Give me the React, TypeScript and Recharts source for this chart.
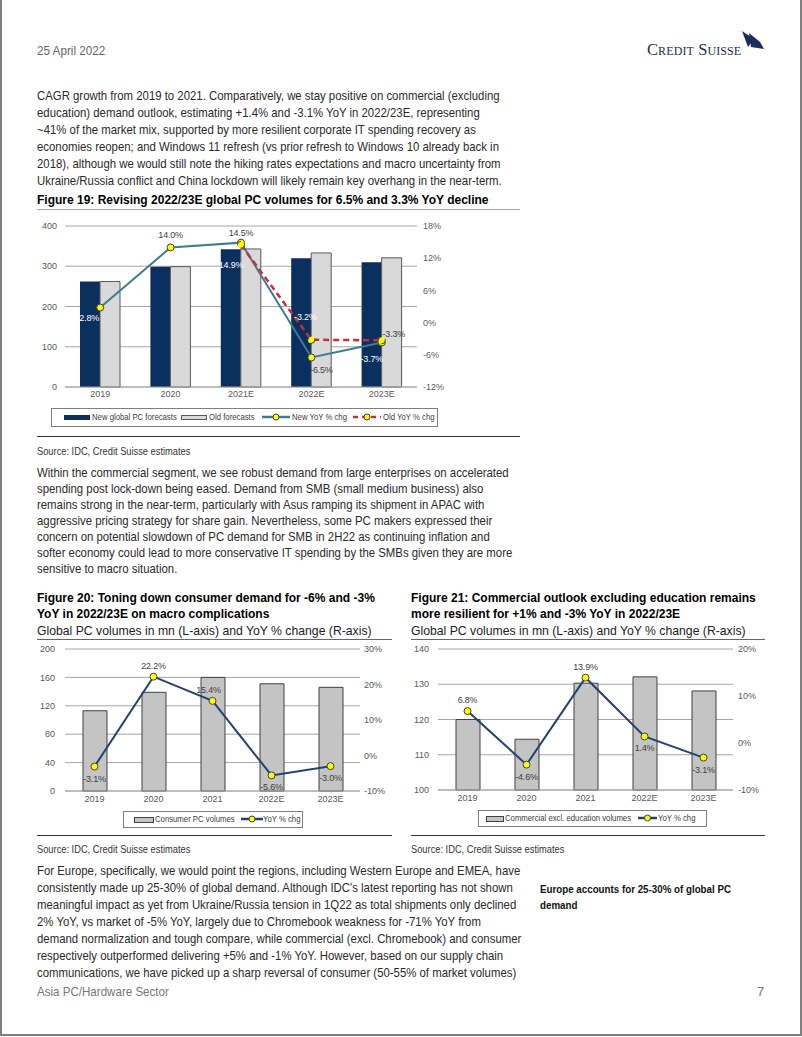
import React from 'react';
import { ComposedChart, Bar, Line, XAxis, YAxis, CartesianGrid } from 'recharts';

// Figure 19
const fig19Years = ['2019', '2020', '2021E', '2022E', '2023E'];
const newVolumes = [262, 299, 342, 320, 310];
const oldVolumes = [262, 299, 343, 333, 321];
const newYoy = [2.8, 14.0, 14.9, -6.5, -3.7];
const oldYoy = [null, null, 14.5, -3.2, -3.3];
const fig19LeftTicks = [0, 100, 200, 300, 400];
const fig19RightTicks = [-12, -6, 0, 6, 12, 18];

// Figure 20
const fig20Years = ['2019', '2020', '2021', '2022E', '2023E'];
const consumerVolumes = [113, 139, 160, 151, 146];
const consumerYoy = [-3.1, 22.2, 15.4, -5.6, -3.0];
const fig20LeftTicks = [0, 40, 80, 120, 160, 200];
const fig20RightTicks = [-10, 0, 10, 20, 30];

// Figure 21
const fig21Years = ['2019', '2020', '2021', '2022E', '2023E'];
const commercialVolumes = [120, 114.4, 130.3, 132.1, 128.1];
const commercialYoy = [6.8, -4.6, 13.9, 1.4, -3.1];
const fig21LeftTicks = [100, 110, 120, 130, 140];
const fig21RightTicks = [-10, 0, 10, 20];

const fig19Rows = fig19Years.map((name, i) => ({ name, newVol: newVolumes[i], oldVol: oldVolumes[i], newYoy: newYoy[i], oldYoy: oldYoy[i] }));
const fig20Rows = fig20Years.map((name, i) => ({ name, vol: consumerVolumes[i], yoy: consumerYoy[i] }));
const fig21Rows = fig21Years.map((name, i) => ({ name, vol: commercialVolumes[i], yoy: commercialYoy[i] }));

const SANS = "'Liberation Sans', Arial, sans-serif";
const NAVY = '#0B2F5E';
const TEAL = '#3C7D8E';
const RED = '#C9303A';
const LINE_BLUE = '#22436E';
const TICK = { fontSize: 9, fill: '#595959', fontFamily: SANS };

// label placement per point (offset from the marker, text colour)
const W = '#FFFFFF';
const D = '#404040';
const newYoyPlace = [[-11, 10, W], [0, -12, D], [-10, 22, W], [10, 13, D], [-10, 17, W]];
const oldYoyPlace = [[0, 0, D], [0, 0, D], [0, -12, D], [-6, -23, W], [12, -6, D]];
const consumerPlace = [[0, 12, D], [0, -11, D], [-4, -11, D], [0, 12, D], [0, 12, D]];
const commercialPlace = [[0, -11, D], [0, 12, D], [0, -11, D], [0, 12, D], [0, 12, D]];

const pctLabel = (places: any[]) => (props: any) => {
  const { x, y, value, index } = props;
  if (value == null || x == null || y == null) return null;
  const [dx, dy, fill] = places[index];
  return (
    <text key={`l-${index}`} x={x + dx} y={y + dy} textAnchor="middle" dominantBaseline="central" fontSize={9} fill={fill} fontFamily={SANS} letterSpacing={-0.2}>
      {`${value.toFixed(1)}%`}
    </text>
  );
};

const yellowDot = { r: 3.5, fill: '#FFFF00', stroke: '#404040', strokeWidth: 1 };

// one line of page text, squeezed horizontally to match the narrow report font
const Text = ({ x, y, children, style, sx = 1 }: any) => (
  <div style={{ position: 'absolute', left: x, top: y - 8.5, lineHeight: '17px', whiteSpace: 'nowrap', ...style }}>
    <span style={{ display: 'inline-block', transform: `scaleX(${sx})`, transformOrigin: 'left center' }}>{children}</span>
  </div>
);

const Rule = ({ x, y, w, color = '#A6A6A6', h = 1 }: any) => (
  <div style={{ position: 'absolute', left: x, top: y, width: w, height: h, background: color }} />
);

const para1 = [
  'CAGR growth from 2019 to 2021. Comparatively, we stay positive on commercial (excluding',
  'education) demand outlook, estimating +1.4% and -3.1% YoY in 2022/23E, representing',
  '~41% of the market mix, supported by more resilient corporate IT spending recovery as',
  'economies reopen; and Windows 11 refresh (vs prior refresh to Windows 10 already back in',
  '2018), although we would still note the hiking rates expectations and macro uncertainty from',
  'Ukraine/Russia conflict and China lockdown will likely remain key overhang in the near-term.',
];
const para2 = [
  'Within the commercial segment, we see robust demand from large enterprises on accelerated',
  'spending post lock-down being eased. Demand from SMB (small medium business) also',
  'remains strong in the near-term, particularly with Asus ramping its shipment in APAC with',
  'aggressive pricing strategy for share gain. Nevertheless, some PC makers expressed their',
  'concern on potential slowdown of PC demand for SMB in 2H22 as continuing inflation and',
  'softer economy could lead to more conservative IT spending by the SMBs given they are more',
  'sensitive to macro situation.',
];
const para3 = [
  'For Europe, specifically, we would point the regions, including Western Europe and EMEA, have',
  "consistently made up 25-30% of global demand. Although IDC's latest reporting has not shown",
  'meaningful impact as yet from Ukraine/Russia tension in 1Q22 as total shipments only declined',
  '2% YoY, vs market of -5% YoY, largely due to Chromebook weakness for -71% YoY from',
  'demand normalization and tough compare, while commercial (excl. Chromebook) and consumer',
  'respectively outperformed delivering +5% and -1% YoY. However, based on our supply chain',
  'communications, we have picked up a sharp reversal of consumer (50-55% of market volumes)',
];

const BODY_SX = 0.875;
const bodyStyle = { fontFamily: SANS, fontSize: 13, color: '#2A2A2A' };
const titleStyle = { fontFamily: SANS, fontSize: 12, fontWeight: 'bold', color: '#000' };
const sourceStyle = { fontFamily: SANS, fontSize: 10.5, color: '#333' };
const legendText = { fontFamily: SANS, fontSize: 9, color: '#404040', whiteSpace: 'nowrap' as const };

const LegendLabel = ({ x, top = 3, children }: any) => (
  <span style={{ ...legendText, position: 'absolute', left: x, top, display: 'inline-block', transform: 'scaleX(0.86)', transformOrigin: 'left center' }}>{children}</span>
);

const LineSwatch = ({ x, w = 28, color, dashed, top = 3 }: any) => (
  <svg style={{ position: 'absolute', left: x, top }} width={w} height={10}>
    <line x1={0} y1={5} x2={w} y2={5} stroke={color} strokeWidth={2.5} strokeDasharray={dashed ? '5 4' : undefined} />
    <circle cx={w / 2} cy={5} r={3} fill="#FFFF00" stroke="#404040" strokeWidth={1} />
  </svg>
);

const RectSwatch = ({ x, w, fill, stroke, top = 6, h = 5 }: any) => (
  <div style={{ position: 'absolute', left: x, top, width: w, height: h, background: fill, border: stroke ? `1px solid ${stroke}` : 'none', boxSizing: 'border-box' }} />
);

const Logo = () => (
  <div style={{ position: 'absolute', left: 647, top: 28 }}>
    <div style={{ position: 'absolute', left: 0, top: 12, fontFamily: "'Liberation Serif', serif", fontSize: 16.5, color: '#1B2C5C', fontVariant: 'small-caps', letterSpacing: 0.1, whiteSpace: 'nowrap', lineHeight: '19px' }}>
      Credit Suisse
    </div>
    <svg style={{ position: 'absolute', left: 93, top: 2 }} width={26} height={20}>
      <polygon points="2,1 14,9 8,17" fill="#1B2C5C" />
      <polygon points="9,3 20,12 24,19 11,17" fill="#1B2C5C" />
    </svg>
  </div>
);

const App: React.FC = () => {
  return (
    <div style={{ position: 'absolute', left: 0, top: 0, width: 802, height: 1037, background: '#fff', overflow: 'hidden' }}>
      {/* page frame */}
      <div style={{ position: 'absolute', left: 0, top: -4, width: 802, height: 1040, border: '2px solid #808080', boxSizing: 'border-box' }} />

      <Text x={37} y={50} sx={0.9} style={{ ...bodyStyle, color: '#666' }}>25 April 2022</Text>
      <Logo />

      {para1.map((t, i) => <Text key={`p1-${i}`} x={37} y={95 + i * 17} sx={BODY_SX} style={bodyStyle}>{t}</Text>)}

      {/* Figure 19 */}
      <Text x={37} y={200} style={titleStyle}>Figure 19: Revising 2022/23E global PC volumes for 6.5% and 3.3% YoY decline</Text>
      <Rule x={37} y={209} w={483} />
      <div style={{ position: 'absolute', left: 37, top: 212 }}>
        <ComposedChart width={483} height={222} data={fig19Rows} margin={{ top: 14, right: 63, bottom: 27, left: 0 }} barGap={0} barCategoryGap="21%">
          <CartesianGrid yAxisId="left" vertical={false} stroke="#A6A6A6" />
          <XAxis dataKey="name" tickLine={false} axisLine={{ stroke: '#A6A6A6' }} tick={TICK} tickSize={0} tickMargin={4} height={20} />
          <YAxis yAxisId="left" domain={[0, 400]} ticks={fig19LeftTicks} width={28} axisLine={false} tickLine={false} tickSize={0} tickMargin={8} tick={TICK} />
          <YAxis yAxisId="right" orientation="right" domain={[-12, 18]} ticks={fig19RightTicks} tickFormatter={(v: number) => `${v}%`} width={40} axisLine={false} tickLine={false} tickSize={0} tickMargin={6} tick={{ ...TICK, textAnchor: 'start' }} />
          <Bar yAxisId="left" dataKey="newVol" fill={NAVY} barSize={20} isAnimationActive={false} />
          <Bar yAxisId="left" dataKey="oldVol" fill="#D9D9D9" stroke="#595959" strokeWidth={1} barSize={20} isAnimationActive={false} />
          <Line yAxisId="right" dataKey="newYoy" stroke={TEAL} strokeWidth={2} dot={yellowDot} activeDot={false} label={pctLabel(newYoyPlace)} isAnimationActive={false} />
          <Line yAxisId="right" dataKey="oldYoy" stroke={RED} strokeWidth={2.5} strokeDasharray="6 4" dot={yellowDot} activeDot={false} label={pctLabel(oldYoyPlace)} isAnimationActive={false} />
        </ComposedChart>
      </div>
      <div style={{ position: 'absolute', left: 51, top: 408, width: 387, height: 19, border: '1px solid #7F7F7F', boxSizing: 'border-box' }}>
        <RectSwatch x={12} w={26} fill={NAVY} />
        <LegendLabel x={40}>New global PC forecasts</LegendLabel>
        <RectSwatch x={129} w={26} fill="#D9D9D9" stroke="#595959" />
        <LegendLabel x={157}>Old forecasts</LegendLabel>
        <LineSwatch x={210} color={TEAL} />
        <LegendLabel x={240}>New YoY % chg</LegendLabel>
        <LineSwatch x={301} color={RED} dashed />
        <LegendLabel x={331}>Old YoY % chg</LegendLabel>
      </div>
      <Rule x={37} y={436} w={483} color="#333" />
      <Text x={37} y={451} sx={0.885} style={sourceStyle}>Source: IDC, Credit Suisse estimates</Text>

      {para2.map((t, i) => <Text key={`p2-${i}`} x={37} y={472 + i * 16} sx={BODY_SX} style={bodyStyle}>{t}</Text>)}

      {/* Figure 20 */}
      <Text x={37} y={598} style={titleStyle}>Figure 20: Toning down consumer demand for -6% and -3%</Text>
      <Text x={37} y={614} style={titleStyle}>YoY in 2022/23E on macro complications</Text>
      <Text x={37} y={630} sx={0.94} style={{ ...bodyStyle, color: '#222' }}>Global PC volumes in mn (L-axis) and YoY % change (R-axis)</Text>
      <Rule x={37} y={639} w={355} color="#666" />
      <div style={{ position: 'absolute', left: 37, top: 641 }}>
        <ComposedChart width={355} height={194} data={fig20Rows} margin={{ top: 8, right: 0, bottom: 24, left: 0 }} barCategoryGap="30%">
          <CartesianGrid yAxisId="left" vertical={false} stroke="#A6A6A6" />
          <XAxis dataKey="name" tickLine={false} axisLine={{ stroke: '#A6A6A6' }} tick={TICK} tickSize={0} tickMargin={5} height={20} />
          <YAxis yAxisId="left" domain={[0, 200]} ticks={fig20LeftTicks} width={28} axisLine={false} tickLine={false} tickSize={0} tickMargin={10} tick={TICK} />
          <YAxis yAxisId="right" orientation="right" domain={[-10, 30]} ticks={fig20RightTicks} tickFormatter={(v: number) => `${v}%`} width={32} axisLine={false} tickLine={false} tickSize={0} tickMargin={4} tick={{ ...TICK, textAnchor: 'start' }} />
          <Bar yAxisId="left" dataKey="vol" fill="#C4C4C4" stroke="#404040" strokeWidth={1} barSize={24} isAnimationActive={false} />
          <Line yAxisId="right" dataKey="yoy" stroke={LINE_BLUE} strokeWidth={2} dot={yellowDot} activeDot={false} label={pctLabel(consumerPlace)} isAnimationActive={false} />
        </ComposedChart>
      </div>
      <div style={{ position: 'absolute', left: 123, top: 811, width: 180, height: 17, border: '1px solid #7F7F7F', boxSizing: 'border-box' }}>
        <RectSwatch x={10} w={20} h={6} top={5} fill="#C4C4C4" stroke="#404040" />
        <LegendLabel x={31} top={2}>Consumer PC volumes</LegendLabel>
        <LineSwatch x={117} w={22} top={2} color={LINE_BLUE} />
        <LegendLabel x={139} top={2}>YoY % chg</LegendLabel>
      </div>
      <Rule x={37} y={835} w={355} color="#333" />
      <Text x={37} y={849} sx={0.885} style={sourceStyle}>Source: IDC, Credit Suisse estimates</Text>

      {/* Figure 21 */}
      <Text x={411} y={598} style={titleStyle}>Figure 21: Commercial outlook excluding education remains</Text>
      <Text x={411} y={614} style={titleStyle}>more resilient for +1% and -3% YoY in 2022/23E</Text>
      <Text x={411} y={630} sx={0.94} style={{ ...bodyStyle, color: '#222' }}>Global PC volumes in mn (L-axis) and YoY % change (R-axis)</Text>
      <Rule x={411} y={639} w={354} color="#666" />
      <div style={{ position: 'absolute', left: 411, top: 641 }}>
        <ComposedChart width={354} height={194} data={fig21Rows} margin={{ top: 8, right: 0, bottom: 25, left: 0 }} barCategoryGap="30%">
          <CartesianGrid yAxisId="left" vertical={false} stroke="#A6A6A6" />
          <XAxis dataKey="name" tickLine={false} axisLine={{ stroke: '#A6A6A6' }} tick={TICK} tickSize={0} tickMargin={5} height={20} />
          <YAxis yAxisId="left" domain={[100, 140]} ticks={fig21LeftTicks} width={27} axisLine={false} tickLine={false} tickSize={0} tickMargin={9} tick={TICK} />
          <YAxis yAxisId="right" orientation="right" domain={[-10, 20]} ticks={fig21RightTicks} tickFormatter={(v: number) => `${v}%`} width={32} axisLine={false} tickLine={false} tickSize={0} tickMargin={5} tick={{ ...TICK, textAnchor: 'start' }} />
          <Bar yAxisId="left" dataKey="vol" fill="#C4C4C4" stroke="#404040" strokeWidth={1} barSize={24} isAnimationActive={false} />
          <Line yAxisId="right" dataKey="yoy" stroke={LINE_BLUE} strokeWidth={2} dot={yellowDot} activeDot={false} label={pctLabel(commercialPlace)} isAnimationActive={false} />
        </ComposedChart>
      </div>
      <div style={{ position: 'absolute', left: 478, top: 810, width: 229, height: 17, border: '1px solid #7F7F7F', boxSizing: 'border-box' }}>
        <RectSwatch x={7} w={18} h={6} top={5} fill="#C4C4C4" stroke="#404040" />
        <LegendLabel x={26} top={2}>Commercial excl. education volumes</LegendLabel>
        <LineSwatch x={159} w={19} top={2} color={LINE_BLUE} />
        <LegendLabel x={179} top={2}>YoY % chg</LegendLabel>
      </div>
      <Rule x={411} y={835} w={354} color="#333" />
      <Text x={411} y={849} sx={0.885} style={sourceStyle}>Source: IDC, Credit Suisse estimates</Text>

      {para3.map((t, i) => <Text key={`p3-${i}`} x={37} y={870 + i * 17} sx={BODY_SX} style={bodyStyle}>{t}</Text>)}
      <Text x={540} y={889} sx={0.93} style={{ ...sourceStyle, fontWeight: 'bold', color: '#111' }}>Europe accounts for 25-30% of global PC</Text>
      <Text x={540} y={905} sx={0.93} style={{ ...sourceStyle, fontWeight: 'bold', color: '#111' }}>demand</Text>

      <Text x={37} y={991} sx={0.89} style={{ ...bodyStyle, color: '#777' }}>Asia PC/Hardware Sector</Text>
      <Text x={757} y={991} style={{ ...bodyStyle, color: '#777' }}>7</Text>
    </div>
  );
};

export default App;
